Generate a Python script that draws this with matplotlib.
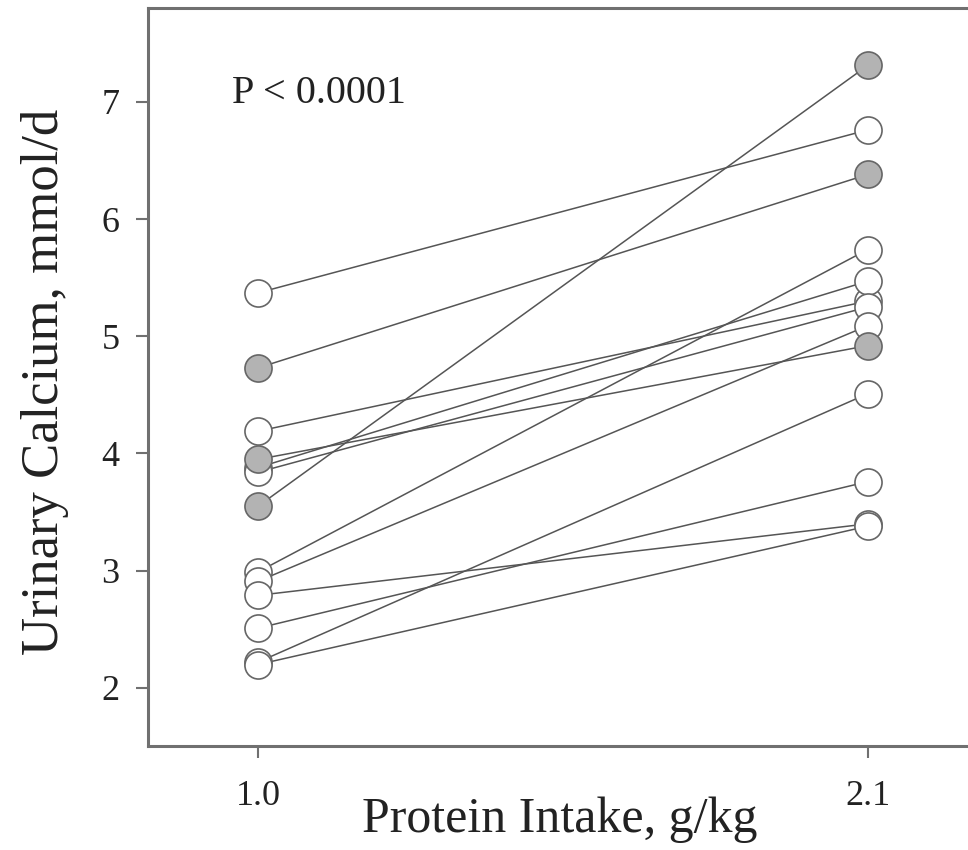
import matplotlib
matplotlib.use("Agg")
import matplotlib.pyplot as plt

# Data: urinary calcium (mmol/d) at two protein intakes, paired by subject
x_levels = [1.0, 2.1]
low_protein = [5.37, 4.73, 3.55, 3.95, 4.19, 3.88, 3.84, 2.99, 2.91, 2.79, 2.51, 2.22, 2.20]
high_protein = [6.76, 6.38, 7.31, 4.92, 5.30, 5.47, 5.25, 5.74, 5.09, 3.40, 3.76, 4.51, 3.38]
filled = [False, True, True, True, False, False, False, False, False, False, False, False, False]
y_ticks = [2, 3, 4, 5, 6, 7]
x_ticklabels = ["1.0", "2.1"]

plt.rcParams['font.family'] = ['Liberation Serif', 'DejaVu Serif']

W, H = 968, 850
fig = plt.figure(figsize=(W/100, H/100), dpi=100)
ax = fig.add_axes([148/W, 1 - 746/H, 1 - 148/W + 0.01, (746 - 8)/H])

for lo, hi in zip(low_protein, high_protein):
    ax.plot(x_levels, [lo, hi], color='#555555', lw=1.1, zorder=2)
for lo, hi, f in zip(low_protein, high_protein, filled):
    fc = '#b3b3b3' if f else 'white'
    ax.plot(x_levels, [lo, hi], linestyle='none', marker='o', markersize=19.5,
            markerfacecolor=fc, markeredgecolor='#666666', markeredgewidth=1.2,
            zorder=4 if f else 3)

ax.set_xlim(0.8016, 2.1 + 110/554.5)
ax.set_ylim(1.505, 7.80)
ax.set_xticks(x_levels)
ax.set_xticklabels(x_ticklabels)
ax.set_yticks(y_ticks)

for s in ['left', 'bottom', 'top', 'right']:
    ax.spines[s].set_color('#707070')
    ax.spines[s].set_linewidth(2.2)
ax.spines['right'].set_visible(False)

ax.tick_params(axis='both', direction='out', length=8.5, width=1.5, color='#707070',
               labelsize=26, labelcolor='#222222')
ax.tick_params(axis='y', pad=12)
ax.tick_params(axis='x', pad=16)

fig.text(45/W, 1 - 382/H, "Urinary Calcium, mmol/d", fontsize=38, color='#222222',
         rotation=90, ha='center', va='center')
fig.text(560/W, 1 - 820/H, "Protein Intake, g/kg", fontsize=36, color='#222222',
         ha='center', va='center')

ax.text(0.954, 7.07, "P < 0.0001", fontsize=29, color='#222222',
        ha='left', va='center')

fig.savefig("out.png", dpi=100)
